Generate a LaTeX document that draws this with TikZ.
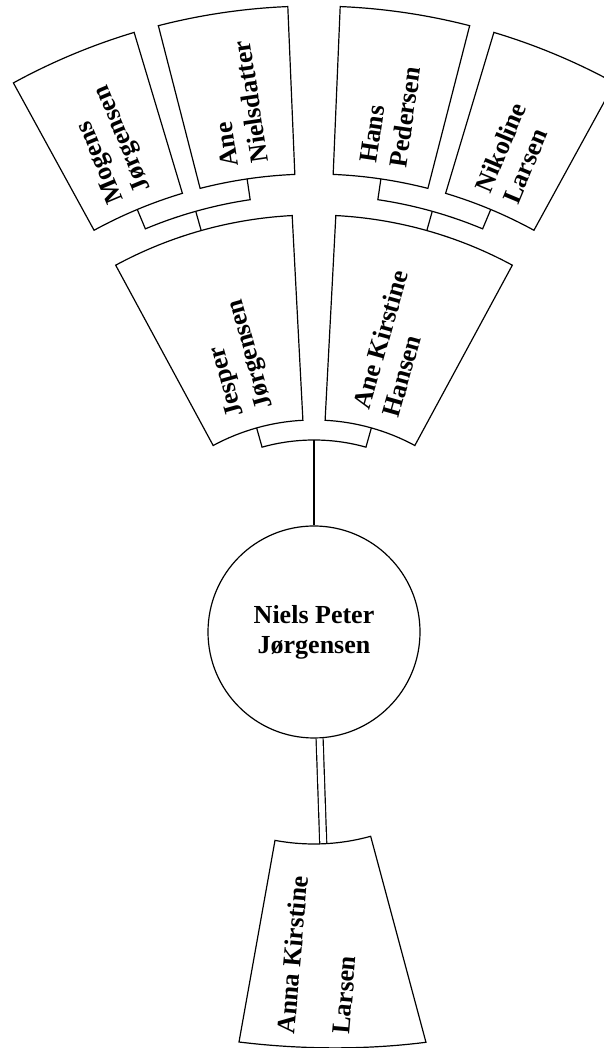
\documentclass[tikz,border=0pt]{standalone}
\usepackage{fontspec}
\setmainfont{Liberation Serif}
\usetikzlibrary{calc}
\tikzset{
  box/.style={draw, line width=1.2pt, fill=white},
  conn/.style={draw, line width=1.2pt},
  namefont/.style={font=\fontsize{26}{30}\selectfont\bfseries},
  lbl/.style={namefont, inner sep=0pt, anchor=west, align=left},
}
\newcommand\fanbox[4]{\draw[box] (#1:#3pt) arc[start angle=#1, end angle=#2, radius=#3pt] -- (#2:#4pt) arc[start angle=#2, end angle=#1, radius=#4pt] -- cycle;}
\begin{document}
\begin{tikzpicture}[x=1pt,y=1pt]
\useasboundingbox (0,0) rectangle (604,1048);
\clip (0,0) rectangle (604,1048);
\coordinate (C) at (314,416);
\begin{scope}[shift={(C)}]
  % centre person
  \node[draw, circle, line width=1.2pt, minimum size=212pt, namefont, align=center, inner sep=0pt] (self) at (0,0) {Niels Peter\\Jørgensen};
  % parents
  \fanbox{93}{118.4}{212}{417}
  \fanbox{61.6}{87}{212}{417}
  % grandparents
  \fanbox{106.7}{118.7}{458}{626}
  \fanbox{92.4}{104.4}{458}{626}
  \fanbox{75.6}{87.6}{458}{626}
  \fanbox{61.3}{73.3}{458}{626}
  % parent bracket
  \coordinate (pb) at (90:192pt);
  \draw[conn] (105.7:212pt) -- (105.7:192pt) arc[start angle=105.7, end angle=74.3, radius=192pt] -- (74.3:212pt);
  \draw[conn] (pb) -- (self.north);
  % grandparent brackets
  \draw[conn] (112.7:458pt) -- (112.7:437pt) arc[start angle=112.7, end angle=98.4, radius=437pt] -- (98.4:458pt);
  \draw[conn] (105.7:437pt) -- (105.7:417pt);
  \draw[conn] (81.6:458pt) -- (81.6:437pt) arc[start angle=81.6, end angle=67.3, radius=437pt] -- (67.3:458pt);
  \draw[conn] (74.3:437pt) -- (74.3:417pt);
  % labels
  \node[lbl, rotate=105.7] (jesper) at (105.7:228pt) {Jesper\\Jørgensen};
  \node[lbl, rotate=74.3] (anek) at (74.3:228pt) {Ane Kirstine\\Hansen};
  \node[lbl, rotate=112.7] (mogens) at (112.7:472pt) {Mogens\\Jørgensen};
  \node[lbl, rotate=98.4] (anen) at (98.4:472pt) {Ane\\Nielsdatter};
  \node[lbl, rotate=81.6] (hans) at (81.6:472pt) {Hans\\Pedersen};
  \node[lbl, rotate=67.3] (nikoline) at (67.3:472pt) {Nikoline\\Larsen};
  % spouse link
  \coordinate (sptop) at (-87.5:212pt);
  \draw[line width=1.2pt, double, double distance=5.8pt] (self.-87.5) -- (sptop);
  % spouse box
  \draw[box] (-100.6:212pt) arc[start angle=-100.6, end angle=-74.5, radius=212pt] -- ++(55.3,-206) coordinate (spbr) .. controls ++(-61,-7.8) and (-14,-417.5) .. (-75,-410) coordinate (spbl) -- cycle;
\end{scope}
\node[lbl, rotate=85] (sp1) at (285.5,14) {Anna Kirstine};
\node[lbl, rotate=85] (sp2) at (341,14) {Larsen};
\end{tikzpicture}
\end{document}
